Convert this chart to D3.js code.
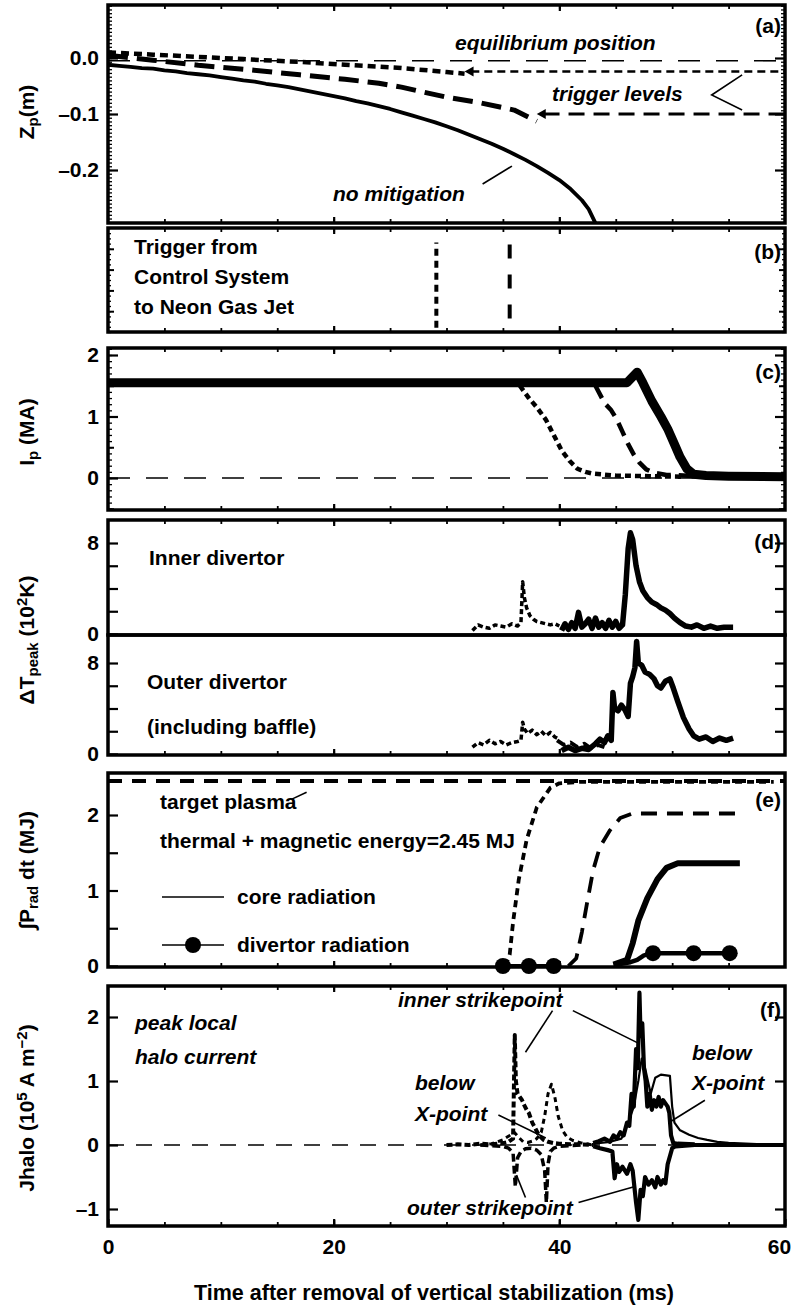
<!DOCTYPE html>
<html><head><meta charset="utf-8">
<script src="https://cdn.jsdelivr.net/npm/d3@7"></script>
<style>
body{margin:0;background:#fff}
text{font-family:"Liberation Sans",Arial,sans-serif;font-weight:bold;fill:#000}
</style></head><body>
<svg id="c" width="793" height="1305"></svg>
<script>
// ---------- DATA ----------
// (a) vertical position Zp (m)
const tA_none=[0,1,2,3,4,5,6,7,8,9,10,11,12,13,14,15,16,17,18,19,20,21,22,23,24,25,26,27,28,29,30,31,32,33,34,35,36,37,38,39,40,41,42,42.6,43.2];
const zA_none=[-0.012,-0.014,-0.016,-0.018,-0.019,-0.022,-0.024,-0.027,-0.029,-0.031,-0.034,-0.037,-0.040,-0.042,-0.046,-0.049,-0.052,-0.056,-0.060,-0.064,-0.068,-0.072,-0.077,-0.081,-0.086,-0.091,-0.097,-0.103,-0.109,-0.115,-0.122,-0.129,-0.137,-0.145,-0.153,-0.162,-0.172,-0.182,-0.193,-0.205,-0.218,-0.234,-0.254,-0.270,-0.295];
const tA_dot=[0,4,8,12,17,21,26,30,31.6];
const zA_dot=[0.010,0.006,0.002,-0.002,-0.007,-0.012,-0.018,-0.025,-0.028];
const tA_dash=[0,4,8,12,17,21,24,26,30,33,36,38];
const zA_dash=[0.005,-0.004,-0.013,-0.020,-0.030,-0.038,-0.045,-0.052,-0.070,-0.080,-0.093,-0.113];
const equilibriumZ=-0.005;
const triggerZ=[-0.024,-0.100];      // dotted, dashed
const triggerArrowT=[31.6,38.0];
// (b) trigger times (ms)
const triggerT=[29.1,35.6];           // dotted, dashed
const triggerSpan=[[0.04,0.86],[0.13,0.86]];
// (c) plasma current (MA)
const tC_solid=[0,46.0,46.9,47.4,48.2,49.0,49.6,50.2,50.7,51.3,51.9,53,55,60];
const iC_solid=[1.55,1.55,1.72,1.55,1.25,1.0,0.8,0.55,0.34,0.15,0.06,0.04,0.03,0.02];
const tC_dot=[36.5,37.3,38.0,38.8,39.5,40.2,40.9,41.6,42.3,43,45,48,51];
const iC_dot=[1.5,1.3,1.15,0.95,0.7,0.45,0.28,0.15,0.1,0.07,0.04,0.03,0.02];
const tC_dash=[43.2,44.0,44.6,45.1,45.6,46.1,46.6,47.1,47.7,48.3,49.5,51,52];
const iC_dash=[1.5,1.22,1.1,0.95,0.75,0.55,0.38,0.25,0.14,0.09,0.05,0.04,0.03];
// (d) peak temperature rise (10^2 K), inner divertor
const tD1_dot=[32.3,32.8,33.3,33.8,34.3,34.8,35.3,35.8,36.3,36.6,36.75,36.9,37.1,37.4,37.7,38.0,38.4,38.8,39.2,39.6,40.0];
const vD1_dot=[0.3,0.8,0.6,0.5,0.8,0.7,0.6,0.9,0.7,1.0,4.6,3.2,2.3,1.6,1.3,1.1,1.0,0.9,0.8,0.9,0.7];
const tD1_solid=[40.2,40.5,40.8,41.1,41.4,41.7,42,42.3,42.6,42.9,43.2,43.5,43.8,44.1,44.4,44.7,45,45.3,45.6,45.85,46.1,46.3,46.5,46.8,47.1,47.4,47.8,48.2,48.6,49,49.4,49.8,50.2,50.7,51.2,51.7,52.2,52.8,53.4,54,54.6,55.4];
const vD1_solid=[0.3,0.9,0.4,1.0,0.5,1.9,0.6,0.9,1.3,0.5,1.4,0.6,1.0,0.5,1.2,0.6,1.1,0.5,0.8,3.5,7.5,8.9,8.3,6.0,4.6,3.8,3.2,2.8,2.6,2.3,2.1,1.8,1.4,1.0,0.7,0.6,0.8,0.5,0.7,0.5,0.6,0.6];
// outer divertor
const tD2_dot=[32.3,32.8,33.3,33.8,34.3,34.8,35.3,35.8,36.3,36.6,36.75,36.9,37.2,37.6,38.0,38.4,38.8,39.2,39.6,40.0];
const vD2_dot=[0.6,1.0,0.8,1.2,0.9,1.1,0.8,1.0,1.1,1.2,2.8,2.2,1.8,2.1,1.7,2.0,1.6,1.9,1.5,1.3];
const tD2_dash=[39.8,40.4,41,41.6,42.2,42.8,43.4,44];
const vD2_dash=[1.2,0.8,1.0,0.6,0.9,0.5,0.8,0.6];
const tD2_solid=[40.2,40.8,41.4,42,42.6,43.2,43.6,44.0,44.3,44.6,44.75,44.9,45.2,45.5,45.8,46.1,46.3,46.5,46.7,46.85,47.0,47.3,47.6,48.0,48.4,48.7,49.0,49.4,49.8,50.1,50.5,51.0,51.5,51.9,52.4,53,53.6,54.2,54.8,55.4];
const vD2_solid=[0.3,0.6,0.3,0.5,0.4,0.9,1.3,1.0,1.6,1.2,5.4,4.0,3.8,4.3,3.9,3.3,6.2,6.8,7.6,9.9,8.0,7.8,7.2,7.0,6.6,6.0,5.8,6.4,6.6,5.8,4.6,3.2,2.2,1.6,1.3,1.5,1.1,1.4,1.2,1.4];
// (e) radiated energy (MJ)
const targetEnergy=2.45;
const tE_dot=[35.2,35.6,35.9,36.4,37.1,38,39.2,40,42,59];
const eE_dot=[0,0.15,0.58,1.14,1.67,2.1,2.36,2.42,2.44,2.44];
const tE_dash=[40.8,41.5,42,42.5,43,43.6,44.5,45.4,46.5,56];
const eE_dash=[0,0.1,0.45,0.87,1.27,1.58,1.8,1.96,2.02,2.02];
const tE_solid=[44.8,46,46.5,47,47.8,48.7,49.5,50.5,56];
const eE_solid=[0.02,0.08,0.3,0.6,0.9,1.15,1.3,1.36,1.36];
const tE_divEarly=[35,37.3,39.5];
const eE_divEarly=[0,0,0];
const tE_divLate=[44.8,45.5,46.3,46.9,47.5,48.3,50,51.9,53.5,55.1,55.7];
const eE_divLate=[0.02,0.03,0.05,0.08,0.14,0.17,0.17,0.17,0.17,0.17,0.15];
const tE_divLateMarks=[48.3,51.9,55.1];
const eE_divLateMarks=[0.17,0.17,0.17];
// (f) peak local halo current (10^5 A m^-2)
const tF_innerL=[30,31,32,33,34,35,35.5,35.9,36.05,36.15,36.3,36.5,36.7,36.9,37.1,37.3,37.6,37.9,38.2,38.6,39,39.5,40,41,42,43];
const jF_innerL=[0,0.01,0,0.02,0.01,0.03,0.05,0.1,1.72,1.0,0.8,0.75,0.7,0.62,0.55,0.5,0.35,0.25,0.15,0.08,0.05,0.03,0.02,0.01,0.01,0];
const tF_xptL=[33,34,35,35.6,36,36.4,36.8,37.2,37.6,38,38.4,38.7,39,39.3,39.6,39.9,40.3,40.7,41.2,42,43];
const jF_xptL=[0,0.02,0.08,0.15,0.2,0.12,0.05,0.04,0.06,0.1,0.2,0.45,0.8,0.95,0.75,0.45,0.22,0.12,0.07,0.03,0];
const tF_outerL=[33,34,35,35.5,35.9,36.1,36.3,36.6,37,37.5,38,38.4,38.7,38.85,39.0,39.2,39.5,40,41,42];
const jF_outerL=[0,-0.01,-0.02,-0.05,-0.12,-0.65,-0.2,-0.1,-0.06,-0.05,-0.08,-0.15,-0.4,-0.9,-0.3,-0.1,-0.05,-0.02,-0.01,0];
const tF_innerR=[43,43.5,44,44.5,44.8,45.1,45.4,45.7,46,46.2,46.4,46.6,46.8,46.95,47.1,47.2,47.35,47.5,47.65,47.8,48.0,48.2,48.4,48.6,48.8,49.0,49.2,49.4,49.6,49.75,49.9,50.1,50.5,52];
const jF_innerR=[0.03,0.06,0.1,0.05,0.15,0.1,0.2,0.15,0.35,0.3,0.8,0.6,1.5,1.2,2.38,1.7,1.9,1.2,1.0,0.6,0.8,0.55,0.7,0.6,0.75,0.6,0.7,0.65,0.6,0.5,0.15,0.03,0.02,0.01];
const tF_xptR=[43,44.5,45.5,46,46.6,47.0,47.3,47.6,48.1,48.5,49.0,49.8,50.0,50.2,50.7,51.5,52.3,53.1,54,55,56,58,60];
const jF_xptR=[0.02,0.05,0.1,0.3,0.6,1.0,1.35,1.2,0.8,1.05,1.1,1.08,0.6,0.35,0.23,0.16,0.11,0.08,0.05,0.035,0.025,0.01,0.005];
const tF_outerR=[43,43.6,44.3,44.7,44.9,45.1,45.3,45.6,46.0,46.3,46.5,46.8,47.0,47.2,47.4,47.6,47.9,48.2,48.5,48.7,49.0,49.2,49.4,49.6,50.0,50.3,52,60];
const jF_outerR=[-0.02,-0.05,-0.08,-0.1,-0.52,-0.3,-0.42,-0.34,-0.45,-0.3,-0.4,-0.9,-1.17,-0.7,-0.8,-0.5,-0.62,-0.55,-0.66,-0.5,-0.62,-0.55,-0.6,-0.3,-0.05,-0.02,0,0];

// tick labels
const xTickLabels=[0,20,40,60];
const aTicks=[-0.2,-0.1,0.0], cTicks=[0,1,2], dTicks=[0,8], eTicks=[0,1,2], fTicks=[-1,0,1,2];

// ---------- LAYOUT ----------
const L=108,R=785;
const svg=d3.select("#c");
const x=d3.scaleLinear().domain([0,60]).range([L,R]);
const P={
 a:{top:5,bottom:223,y:d3.scaleLinear().domain([-0.2,0]).range([170,58])},
 b:{top:228,bottom:332,y:d3.scaleLinear().domain([0,1]).range([332,228])},
 c:{top:348,bottom:510,y:d3.scaleLinear().domain([0,2]).range([478,355])},
 d1:{top:520,bottom:635,y:d3.scaleLinear().domain([0,8]).range([634,543])},
 d2:{top:635,bottom:755,y:d3.scaleLinear().domain([0,8]).range([754,663])},
 e:{top:773,bottom:967,y:d3.scaleLinear().domain([0,2]).range([966,815])},
 f:{top:986,bottom:1226,y:d3.scaleLinear().domain([0,1]).range([1145,1081])}
};
const defs=svg.append("defs");
Object.entries(P).forEach(([k,p])=>{
  defs.append("clipPath").attr("id","clip-"+k).append("rect")
    .attr("x",L).attr("y",p.top).attr("width",R-L).attr("height",p.bottom-p.top);
  p.g=svg.append("g").attr("clip-path",`url(#clip-${k})`);
});
const zip=(a,b)=>a.map((v,i)=>[v,b[i]]);
function line(p,ts,vs,opt){
  const gen=d3.line().x(d=>x(d[0])).y(d=>p.y(d[1]));
  return p.g.append("path").datum(zip(ts,vs)).attr("d",gen)
   .attr("fill","none").attr("stroke","#000")
   .attr("stroke-width",opt.w||3).attr("stroke-dasharray",opt.dash||null)
   .attr("stroke-linejoin","round").attr("stroke-linecap",opt.cap||"butt");
}
function hline(p,v,t0,t1,opt){ return line(p,[t0,t1],[v,v],opt); }

// ---------- PANEL A ----------
hline(P.a,equilibriumZ,0,60,{w:1.6,dash:"22,16"});
line(P.a,tA_none,zA_none,{w:3.8});
line(P.a,tA_dot,zA_dot,{w:4.5,dash:"8,5"});
line(P.a,tA_dash,zA_dash,{w:5,dash:"20,9"});
hline(P.a,triggerZ[0],triggerArrowT[0]+0.6,60,{w:2.6,dash:"8,5"});
hline(P.a,triggerZ[1],triggerArrowT[1]+0.6,60,{w:3.2,dash:"16,9"});
triggerZ.forEach((z,i)=>{
  const xt=x(triggerArrowT[i]), yt=P.a.y(z);
  P.a.g.append("path").attr("d",`M${xt},${yt} l9,-5 l0,10 z`).attr("fill","#000");
});

// ---------- PANEL B ----------
triggerT.forEach((t,i)=>{
  P.b.g.append("line").attr("x1",x(t)).attr("x2",x(t))
   .attr("y1",P.b.y(triggerSpan[i][0])).attr("y2",P.b.y(triggerSpan[i][1]))
   .attr("stroke","#000").attr("stroke-width",4)
   .attr("stroke-dasharray",i===0?"7,5":"14,16");
});

// ---------- PANEL C ----------
hline(P.c,0,0,60,{w:1.6,dash:"22,16"});
line(P.c,tC_solid,iC_solid,{w:9});
line(P.c,tC_dot,iC_dot,{w:4.5,dash:"6,4"});
line(P.c,tC_dash,iC_dash,{w:4.5,dash:"14,8"});

// ---------- PANEL D ----------
line(P.d1,tD1_dot,vD1_dot,{w:3.5,dash:"5,3"});
line(P.d1,tD1_solid,vD1_solid,{w:5.5});
line(P.d2,tD2_dot,vD2_dot,{w:3.5,dash:"5,3"});
line(P.d2,tD2_dash,vD2_dash,{w:4,dash:"10,5"});
line(P.d2,tD2_solid,vD2_solid,{w:5.5});

// ---------- PANEL E ----------
hline(P.e,targetEnergy,0,60,{w:4,dash:"14,10"});
line(P.e,tE_dot,eE_dot,{w:3.8,dash:"7,5"});
line(P.e,tE_dash,eE_dash,{w:3.8,dash:"16,10"});
line(P.e,tE_solid,eE_solid,{w:6});
line(P.e,tE_divEarly,eE_divEarly,{w:4});
line(P.e,tE_divLate,eE_divLate,{w:4.5});
svg.append("g").selectAll("circle").data(zip(tE_divEarly.concat(tE_divLateMarks),eE_divEarly.concat(eE_divLateMarks)))
  .join("circle").attr("cx",d=>x(d[0])).attr("cy",d=>P.e.y(d[1])).attr("r",8).attr("fill","#000");

// ---------- PANEL F ----------
hline(P.f,0,0,60,{w:1.6,dash:"16,12"});
line(P.f,tF_xptR,jF_xptR,{w:2.2});
line(P.f,tF_innerR,jF_innerR,{w:4.2});
line(P.f,tF_outerR,jF_outerR,{w:4.2});
line(P.f,tF_xptL,jF_xptL,{w:3,dash:"5,4"});
line(P.f,tF_innerL,jF_innerL,{w:4,dash:"6,3"});
line(P.f,tF_outerL,jF_outerL,{w:3.5,dash:"8,4"});

// ---------- AXES / TICKS ----------
function styleAx(g,w){g.select(".domain").remove();g.selectAll("line").attr("stroke","#000").attr("stroke-width",w);g.selectAll("text").style("font-size","21px");return g;}
function yAx(p,vals,len,fmt,side,w){
  const ax=(side==="L"?d3.axisLeft(p.y):d3.axisRight(p.y)).tickValues(vals).tickSize(-len).tickPadding(9).tickFormat(fmt||"");
  return styleAx(svg.append("g").attr("transform",`translate(${side==="L"?L:R},0)`).call(ax),w||2);
}
function xAx(yPos,side,vals,len,fmt,pad,w){
  const ax=(side==="T"?d3.axisTop(x):d3.axisBottom(x)).tickValues(vals).tickSize(-len).tickPadding(pad||9).tickFormat(fmt||"");
  return styleAx(svg.append("g").attr("transform",`translate(0,${yPos})`).call(ax),w||1.8);
}
const five=d3.range(5,60,5), twenty=[20,40];
const neg=d=>d<0?"\u2013"+Math.abs(d):String(d);
// a
["L","R"].forEach(s=>yAx(P.a,d3.range(-44,15).map(i=>i/150),4,"",s,1.3));
yAx(P.a,aTicks,10,d=>d===0?"0.0":"\u2013"+Math.abs(d).toFixed(1),"L",2.2);
yAx(P.a,aTicks,10,"","R",2.2);
// b
["L","R"].forEach(s=>{yAx(P.b,d3.range(0,1.01,0.05),3,"",s,1.3);yAx(P.b,d3.range(0.2,1,0.2),6,"",s,2);});
// c
["L","R"].forEach(s=>{yAx(P.c,d3.range(-5,22).map(i=>i/10),4,"",s,1.3);yAx(P.c,[-0.5,0.5,1.5],6,"",s,2);});
yAx(P.c,cTicks,10,String,"L",2.2);yAx(P.c,cTicks,10,"","R",2.2);
// d
[P.d1,P.d2].forEach(p=>{yAx(p,[2,4,6],10,"","L",2.2);yAx(p,[2,4,6,8],10,"","R",2.2);yAx(p,dTicks,10,String,"L",2.2);});
// e
yAx(P.e,[0.5,1.5],10,"","L",2.2);yAx(P.e,eTicks,10,String,"L",2.2);
// f
yAx(P.f,fTicks,10,neg,"L",2.2);yAx(P.f,fTicks,10,"","R",2.2);
// x ticks
[["a","T"],["a","B"],["b","T"],["b","B"],["c","T"],["c","B"],["d1","T"],["d2","B"],["e","B"],["f","T"],["f","B"]].forEach(([k,s])=>{
  const yPos=s==="T"?P[k].top:P[k].bottom;
  xAx(yPos,s,five,4,"",9,1.8);
  xAx(yPos,s,twenty,6,"",9,2.2);
});
const xl=xAx(P.f.bottom,"B",xTickLabels,7,String,13,2.2);
xl.selectAll(".tick text").filter(d=>d===60).attr("dx",-6);

// frames
Object.values(P).forEach(p=>svg.append("rect").attr("x",L).attr("y",p.top).attr("width",R-L).attr("height",p.bottom-p.top)
  .attr("fill","none").attr("stroke","#000").attr("stroke-width",3.5));

// ---------- TEXT ----------
function txt(xp,yp,s,opt={}){
  const t=svg.append("text").attr("x",xp).attr("y",yp).style("font-size",(opt.size||21)+"px")
   .attr("text-anchor",opt.anchor||"start");
  if(opt.italic) t.style("font-style","italic");
  t.text(s); return t;
}
function rich(xp,yp,parts,rot){
  const t=svg.append("text").attr("text-anchor","middle").style("font-size","21px")
    .attr("transform",`translate(${xp},${yp}) rotate(${rot||-90})`);
  parts.forEach(pp=>{
    const ts=t.append("tspan").text(pp.t);
    if(pp.sub){ts.attr("baseline-shift","-25%").style("font-size","15px");}
    if(pp.sup){ts.attr("baseline-shift","45%").style("font-size","15px");}
  });
  return t;
}
// panel letters
[["(a)",P.a.top+28],["(b)",P.b.top+31],["(c)",P.c.top+31],["(d)",P.d1.top+29],["(e)",P.e.top+34],["(f)",P.f.top+31]]
  .forEach(([s,yy])=>txt(781,yy,s,{anchor:"end"}));
// a
txt(455,50,"equilibrium position",{italic:true});
txt(552,101,"trigger levels",{italic:true});
txt(333,201,"no mitigation",{italic:true});
function leader(p,pts,w){
  p.g.append("path").attr("d",d3.line().x(d=>x(d[0])).y(d=>p.y(d[1]))(pts)).attr("fill","none").attr("stroke","#000").attr("stroke-width",w||1.6);
}
leader(P.a,[[33.2,-0.225],[35.8,-0.193]]);
leader(P.a,[[56.2,-0.030],[53.5,-0.066],[56.2,-0.093]]);
// b
txt(134,254,"Trigger from");txt(134,284,"Control System");txt(134,314,"to Neon Gas Jet");
// d
txt(149,565,"Inner divertor");txt(147,689,"Outer divertor");txt(147,734,"(including baffle)");
// e
txt(160,809,"target plasma");
leader(P.e,[[16.3,2.21],[17.6,2.30]]);
txt(160,848,"thermal + magnetic energy=2.45 MJ");
svg.append("line").attr("x1",162).attr("x2",224).attr("y1",897).attr("y2",897).attr("stroke","#000").attr("stroke-width",1.6);
txt(237,904,"core radiation");
svg.append("line").attr("x1",162).attr("x2",224).attr("y1",945).attr("y2",945).attr("stroke","#000").attr("stroke-width",1.6);
svg.append("circle").attr("cx",193).attr("cy",945).attr("r",8).attr("fill","#000");
txt(237,952,"divertor radiation");
// f
txt(135,1030,"peak local",{italic:true});txt(135,1064,"halo current",{italic:true});
txt(398,1007,"inner strikepoint",{italic:true});
txt(415,1090,"below",{italic:true});txt(415,1121,"X-point",{italic:true});
txt(692,1060,"below",{italic:true});txt(692,1090,"X-point",{italic:true});
txt(407,1215,"outer strikepoint",{italic:true});
leader(P.f,[[39.4,2.10],[37.0,1.45]]);
leader(P.f,[[41.2,2.10],[46.9,1.60]]);
leader(P.f,[[34.6,0.47],[38.8,0.11]]);
leader(P.f,[[52.9,0.70],[49.8,0.36]]);
leader(P.f,[[37.0,-0.82],[36.2,-0.47]]);
leader(P.f,[[41.7,-0.90],[46.7,-0.65]]);
// axis titles
rich(34,112,[{t:"Z"},{t:"p",sub:true},{t:"(m)"}]);
rich(34,432,[{t:"I"},{t:"p",sub:true},{t:" (MA)"}]);
rich(34,640,[{t:"\u0394T"},{t:"peak",sub:true},{t:" (10"},{t:"2",sup:true},{t:"K)"}]);
rich(34,870,[{t:"\u222BP"},{t:"rad",sub:true},{t:" dt  (MJ)"}]);
rich(34,1108,[{t:"Jhalo (10"},{t:"5",sup:true},{t:" A m"},{t:"\u22122",sup:true},{t:")"}]);
txt(434,1300,"Time after removal of vertical stabilization (ms)",{anchor:"middle",size:21.5});
</script>
</body></html>
